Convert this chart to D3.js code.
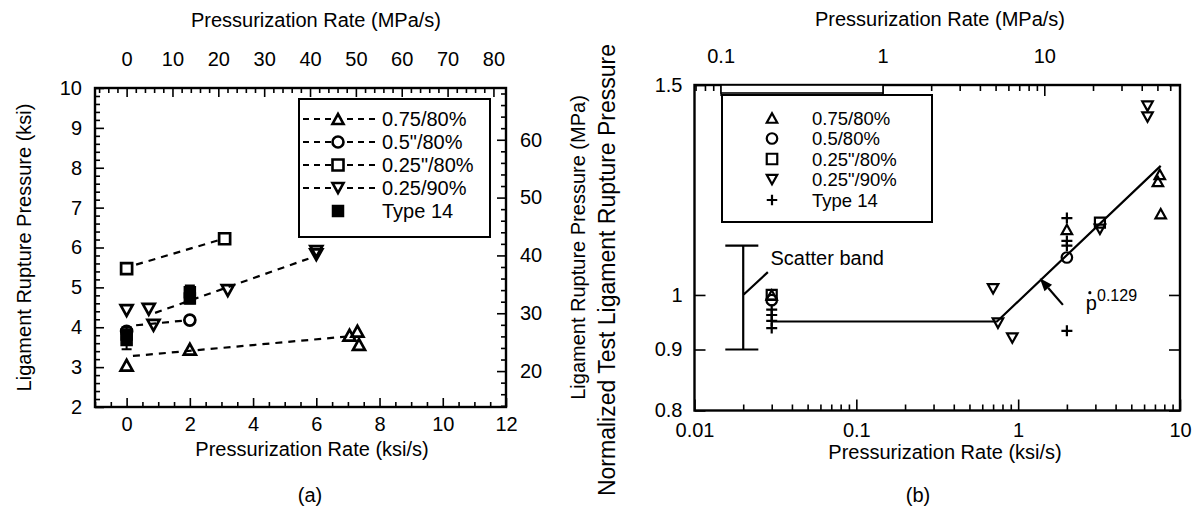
<!DOCTYPE html>
<html><head><meta charset="utf-8">
<script src="https://cdn.jsdelivr.net/npm/d3@7"></script>
<style>
html,body{margin:0;padding:0;background:#fff;}
svg{display:block;font-family:"Liberation Sans",Arial,Helvetica,sans-serif;}
</style></head><body>
<svg id="chart" width="1197" height="514"></svg>
<script>
// Unit conversion for the secondary (MPa) axes
const KSI_TO_MPA = 6.895;

// ---------- panel (a): rupture pressure (ksi) vs pressurization rate (ksi/s) ----------
const aTri75X = [0, 2, 7.05, 7.3, 7.35];
const aTri75Y = [3.05, 3.45, 3.8, 3.9, 3.57];
const aTri75FitX = [0.2, 7.0];
const aTri75FitY = [3.28, 3.77];

const aCirc50X = [0, 2];
const aCirc50Y = [3.9, 4.18];
const aCirc50FitX = [0.3, 1.85];
const aCirc50FitY = [4.05, 4.17];

const aSq25X = [0, 3.1];
const aSq25Y = [5.47, 6.22];
const aSq25FitX = [0.3, 2.9];
const aSq25FitY = [5.57, 6.18];

const aInv90X = [0, 0.7, 0.85, 3.2, 6.0, 6.0];
const aInv90Y = [4.42, 4.45, 4.05, 4.92, 5.82, 5.9];
const aInv90FitX = [0.9, 5.75];
const aInv90FitY = [4.36, 5.72];

const aT14X = [0, 0, 2, 2];
const aT14Y = [3.68, 3.82, 4.72, 4.88];
const aT14ErrX = [0, 2];
const aT14ErrLo = [3.45, 4.6];
const aT14ErrHi = [4.0, 5.05];

const aXTicks = [0, 2, 4, 6, 8, 10, 12];
const aYTicks = [2, 3, 4, 5, 6, 7, 8, 9, 10];
const aTopTicks = [0, 10, 20, 30, 40, 50, 60, 70, 80];
const aRightTicks = [20, 30, 40, 50, 60];
const aLegend = ["0.75/80%", "0.5\"/80%", "0.25\"/80%", "0.25/90%", "Type 14"];

// ---------- panel (b): normalized rupture pressure vs rate (log-log) ----------
const bTriX = [0.03, 2, 7.3, 7.5, 7.6];
const bTriY = [1.0, 1.135, 1.245, 1.262, 1.17];
const bCircX = [0.03, 2];
const bCircY = [0.99, 1.075];
const bSqX = [0.03, 3.2];
const bSqY = [1.0, 1.15];
const bInvX = [0.7, 0.75, 0.92, 3.2, 6.3, 6.3];
const bInvY = [1.012, 0.947, 0.92, 1.135, 1.41, 1.44];
const bPlusX = [0.03, 0.03, 0.03, 0.03, 2, 2, 2, 2];
const bPlusY = [0.972, 0.962, 0.951, 0.938, 1.16, 1.11, 1.10, 0.933];
const bFitX = [0.03, 0.74, 7.6];
const bFitY = [0.95, 0.95, 1.283];
const bXTicks = [0.01, 0.1, 1, 10];
const bYTicks = [0.8, 0.9, 1, 1.5];
const bTopTicks = [0.1, 1, 10];
const bLegend = ["0.75/80%", "0.5/80%", "0.25\"/80%", "0.25\"/90%", "Type 14"];

const FS = 20;
const svg = d3.select("#chart");

// marker outlines centred on (0,0)
function markerPath(kind, s) {
  const h = s * 0.9, w = s;
  switch (kind) {
    case "tri": return `M${-w/2},${h/2}L${w/2},${h/2}L0,${-h/2}Z`;
    case "inv": return `M${-w/2},${-h/2}L${w/2},${-h/2}L0,${h/2}Z`;
    case "sq": return `M${-s/2},${-s/2}H${s/2}V${s/2}H${-s/2}Z`;
    case "circ": { const r = s/2; return `M${r},0A${r},${r} 0 1,1 ${-r},0A${r},${r} 0 1,1 ${r},0Z`; }
    case "plus": return `M${-s/2},0H${s/2}M0,${-s/2}V${s/2}`;
  }
}

function drawMarkers(g, xs, ys, x, y, kind, s, sw, fill) {
  g.append("g").selectAll("path").data(xs.map((d, i) => [d, ys[i]])).join("path")
    .attr("transform", d => `translate(${x(d[0])},${y(d[1])})`)
    .attr("d", markerPath(kind, s))
    .attr("fill", fill || "none").attr("stroke", "#000").attr("stroke-width", sw)
    .attr("stroke-linejoin", "miter");
}

function styleAxis(g) {
  g.select(".domain").remove();
  g.selectAll(".tick line").attr("stroke", "#000").attr("stroke-width", 1.6);
  g.selectAll(".tick text").attr("font-size", FS).attr("fill", "#000")
    .attr("font-family", "Liberation Sans, Arial, sans-serif");
}

// ================= panel (a) =================
const A = {l: 95, r: 506, t: 88, b: 407};
const xA = d3.scaleLinear().domain([-1, 12]).range([A.l, A.r]);
const yA = d3.scaleLinear().domain([2, 10]).range([A.b, A.t]);
const xAm = d3.scaleLinear().domain([-1 * KSI_TO_MPA, 12 * KSI_TO_MPA]).range([A.l, A.r]);
const yAm = d3.scaleLinear().domain([2 * KSI_TO_MPA, 10 * KSI_TO_MPA]).range([A.b, A.t]);
const gA = svg.append("g");

const near = (v, arr) => arr.some(a => Math.abs(a - v) < 1e-6);
// bottom
gA.append("g").attr("transform", `translate(0,${A.b})`)
  .call(d3.axisBottom(xA).tickValues(aXTicks).tickSize(-9).tickPadding(10).tickFormat(d3.format("d"))).call(styleAxis);
gA.append("g").attr("transform", `translate(0,${A.b})`)
  .call(d3.axisBottom(xA).tickValues(d3.range(-1, 12.01, 0.5).filter(v => !near(v, aXTicks))).tickSize(-5).tickFormat("")).call(styleAxis);
// top (MPa/s)
gA.append("g").attr("transform", `translate(0,${A.t})`)
  .call(d3.axisTop(xAm).tickValues(aTopTicks).tickSize(-9).tickPadding(22).tickFormat(d3.format("d"))).call(styleAxis);
gA.append("g").attr("transform", `translate(0,${A.t})`)
  .call(d3.axisTop(xAm).tickValues(d3.range(-6, 82, 2).filter(v => !near(v, aTopTicks))).tickSize(-5).tickFormat("")).call(styleAxis);
// left (ksi)
gA.append("g").attr("transform", `translate(${A.l},0)`)
  .call(d3.axisLeft(yA).tickValues(aYTicks).tickSize(-9).tickPadding(13).tickFormat(d3.format("d"))).call(styleAxis);
gA.append("g").attr("transform", `translate(${A.l},0)`)
  .call(d3.axisLeft(yA).tickValues(d3.range(2, 10.01, 0.2).filter(v => !near(v, aYTicks))).tickSize(-5).tickFormat("")).call(styleAxis);
// right (MPa)
gA.append("g").attr("transform", `translate(${A.r},0)`)
  .call(d3.axisRight(yAm).tickValues(aRightTicks).tickSize(-9).tickPadding(14).tickFormat(d3.format("d"))).call(styleAxis);
gA.append("g").attr("transform", `translate(${A.r},0)`)
  .call(d3.axisRight(yAm).tickValues(d3.range(14, 69, 2).filter(v => !near(v, aRightTicks))).tickSize(-5).tickFormat("")).call(styleAxis);

gA.append("rect").attr("x", A.l).attr("y", A.t).attr("width", A.r - A.l).attr("height", A.b - A.t)
  .attr("fill", "none").attr("stroke", "#000").attr("stroke-width", 2.4);

// dashed trend lines
const lineA = d3.line().x(d => xA(d[0])).y(d => yA(d[1]));
[[aTri75FitX, aTri75FitY], [aCirc50FitX, aCirc50FitY], [aSq25FitX, aSq25FitY], [aInv90FitX, aInv90FitY]]
  .forEach(([fx, fy]) => {
    gA.append("path").attr("d", lineA(fx.map((v, i) => [v, fy[i]])))
      .attr("fill", "none").attr("stroke", "#000").attr("stroke-width", 2.2).attr("stroke-dasharray", "7,6");
  });

// Type 14 error bars
aT14ErrX.forEach((xv, i) => {
  const px = xA(xv);
  gA.append("path")
    .attr("d", `M${px},${yA(aT14ErrLo[i])}V${yA(aT14ErrHi[i])}M${px-5},${yA(aT14ErrLo[i])}H${px+5}M${px-5},${yA(aT14ErrHi[i])}H${px+5}`)
    .attr("stroke", "#000").attr("stroke-width", 2).attr("fill", "none");
});

drawMarkers(gA, aTri75X, aTri75Y, xA, yA, "tri", 12, 2.7);
drawMarkers(gA, aCirc50X, aCirc50Y, xA, yA, "circ", 11, 2.7);
drawMarkers(gA, aSq25X, aSq25Y, xA, yA, "sq", 11, 2.7);
drawMarkers(gA, aInv90X, aInv90Y, xA, yA, "inv", 12, 2.7);
drawMarkers(gA, aT14X, aT14Y, xA, yA, "sq", 11, 1.5, "#000");

// legend (a)
const legA = {x: 299, y: 99, w: 191, h: 138};
gA.append("rect").attr("x", legA.x).attr("y", legA.y).attr("width", legA.w).attr("height", legA.h)
  .attr("fill", "#fff").attr("stroke", "#000").attr("stroke-width", 2);
const legAKinds = ["tri", "circ", "sq", "inv", "t14"];
aLegend.forEach((lab, i) => {
  const cy = 119 + i * 23, sx = 338;
  const row = gA.append("g");
  if (legAKinds[i] !== "t14") {
    row.append("path").attr("d", `M303,${cy}H377`).attr("stroke", "#000").attr("stroke-width", 2.2)
      .attr("stroke-dasharray", "6,5");
    row.append("path").attr("transform", `translate(${sx},${cy})`).attr("d", markerPath(legAKinds[i], 11))
      .attr("fill", "#fff").attr("stroke", "#000").attr("stroke-width", 2.6);
  } else {
    row.append("path").attr("transform", `translate(${sx},${cy})`).attr("d", markerPath("sq", 11))
      .attr("fill", "#000").attr("stroke", "#000").attr("stroke-width", 1.5);
  }
  row.append("text").attr("x", 382).attr("y", cy).attr("dy", "0.36em").attr("font-size", FS).text(lab);
});

// titles (a)
gA.append("text").attr("x", 316).attr("y", 20).attr("dy", "0.36em").attr("text-anchor", "middle").attr("font-size", FS)
  .text("Pressurization Rate (MPa/s)");
gA.append("text").attr("x", 312).attr("y", 449).attr("dy", "0.36em").attr("text-anchor", "middle").attr("font-size", FS)
  .text("Pressurization Rate (ksi/s)");
gA.append("text").attr("transform", `translate(24,${(A.t + A.b) / 2}) rotate(-90)`).attr("dy", "0.36em")
  .attr("text-anchor", "middle").attr("font-size", FS).text("Ligament Rupture Pressure (ksi)");
gA.append("text").attr("transform", `translate(578,${(A.t + A.b) / 2}) rotate(-90)`).attr("dy", "0.36em")
  .attr("text-anchor", "middle").attr("font-size", FS).text("Ligament Rupture Pressure (MPa)");
gA.append("text").attr("x", 310).attr("y", 495).attr("dy", "0.36em").attr("text-anchor", "middle").attr("font-size", FS).text("(a)");

// ================= panel (b) =================
const B = {l: 694.5, r: 1180, t: 85, b: 410.5};
const xB = d3.scaleLog().domain([0.01, 10]).range([B.l, B.r]);
const yB = d3.scaleLog().domain([0.8, 1.5]).range([B.b, B.t]);
const xBm = d3.scaleLog().domain([0.01 * KSI_TO_MPA, 10 * KSI_TO_MPA]).range([B.l, B.r]);
const gB = svg.append("g");

const logMinor = (lo, hi) => {
  const out = [];
  for (let e = -3; e <= 2; e++) for (let m = 2; m <= 9; m++) {
    const v = m * Math.pow(10, e);
    if (v >= lo && v <= hi) out.push(v);
  }
  return out;
};
const fmtB = d => (d >= 1 ? d3.format("d")(d) : String(+d.toPrecision(2)));

gB.append("g").attr("transform", `translate(0,${B.b})`)
  .call(d3.axisBottom(xB).tickValues(bXTicks).tickSize(-11).tickPadding(12).tickFormat(fmtB)).call(styleAxis);
gB.append("g").attr("transform", `translate(0,${B.b})`)
  .call(d3.axisBottom(xB).tickValues(logMinor(0.01, 10)).tickSize(-6).tickFormat("")).call(styleAxis);
gB.append("g").attr("transform", `translate(0,${B.t})`)
  .call(d3.axisTop(xBm).tickValues(bTopTicks).tickSize(-11).tickPadding(22).tickFormat(fmtB)).call(styleAxis);
gB.append("g").attr("transform", `translate(0,${B.t})`)
  .call(d3.axisTop(xBm).tickValues(logMinor(0.0689, 69)).tickSize(-6).tickFormat("")).call(styleAxis);
gB.append("g").attr("transform", `translate(${B.l},0)`)
  .call(d3.axisLeft(yB).tickValues(bYTicks).tickSize(-11).tickPadding(12).tickFormat(d => String(d))).call(styleAxis);
gB.append("g").attr("transform", `translate(${B.r},0)`)
  .call(d3.axisRight(yB).tickValues(bYTicks).tickSize(-11).tickFormat("")).call(styleAxis);

gB.append("rect").attr("x", B.l).attr("y", B.t).attr("width", B.r - B.l).attr("height", B.b - B.t)
  .attr("fill", "none").attr("stroke", "#000").attr("stroke-width", 2.4);

// fitted trend: constant, then power law
const lineB = d3.line().x(d => xB(d[0])).y(d => yB(d[1]));
gB.append("path").attr("d", lineB(bFitX.map((v, i) => [v, bFitY[i]])))
  .attr("fill", "none").attr("stroke", "#000").attr("stroke-width", 2.2);

drawMarkers(gB, bTriX, bTriY, xB, yB, "tri", 10.5, 2.2);
drawMarkers(gB, bCircX, bCircY, xB, yB, "circ", 10.5, 2.2);
drawMarkers(gB, bSqX, bSqY, xB, yB, "sq", 10, 2.2);
drawMarkers(gB, bInvX, bInvY, xB, yB, "inv", 10.5, 2.2);
drawMarkers(gB, bPlusX, bPlusY, xB, yB, "plus", 11, 2.2);

// scatter band bracket
const sbX = 0.02, sbLo = 0.9, sbHi = 1.10, sbCapL = 0.0155, sbCapR = 0.0248;
gB.append("path")
  .attr("d", `M${xB(sbX)},${yB(sbLo)}V${yB(sbHi)}M${xB(sbCapL)},${yB(sbHi)}H${xB(sbCapR)}M${xB(sbCapL)},${yB(sbLo)}H${xB(sbCapR)}` +
             `M${xB(sbX)},${yB(1.0)}L${xB(0.0284)},${yB(1.045)}`)
  .attr("fill", "none").attr("stroke", "#000").attr("stroke-width", 2.2);
gB.append("text").attr("x", xB(0.0295)).attr("y", yB(1.06)).attr("font-size", FS).text("Scatter band");

// arrow pointing at the power-law segment
const arX0 = 1.89, arY0 = 0.981, arX1 = 1.36, arY1 = 1.033;
{
  const x0 = xB(arX0), y0 = yB(arY0), x1 = xB(arX1), y1 = yB(arY1);
  const ang = Math.atan2(y1 - y0, x1 - x0), L = 13, W = 5;
  const bx = x1 - L * Math.cos(ang), by = y1 - L * Math.sin(ang);
  const nx = -Math.sin(ang) * W, ny = Math.cos(ang) * W;
  gB.append("path").attr("d", `M${x0},${y0}L${bx},${by}`).attr("stroke", "#000").attr("stroke-width", 2.2);
  gB.append("path").attr("d", `M${x1},${y1}L${bx + nx},${by + ny}L${bx - nx},${by - ny}Z`).attr("fill", "#000");
}
// exponent label: p-dot to the 0.129
const pl = gB.append("text").attr("x", xB(2.62)).attr("y", yB(0.972)).attr("font-size", FS);
pl.append("tspan").text("p");
pl.append("tspan").attr("dy", -9).attr("font-size", 16).text("0.129");
gB.append("circle").attr("cx", xB(2.62) + 4).attr("cy", yB(0.972) - 17).attr("r", 1.6).attr("fill", "#000");

// legend (b)
gB.append("rect").attr("x", 721).attr("y", 85).attr("width", 162).attr("height", 8)
  .attr("fill", "#fff").attr("stroke", "#000").attr("stroke-width", 1.6);
gB.append("rect").attr("x", 722).attr("y", 95).attr("width", 210).attr("height", 127)
  .attr("fill", "#fff").attr("stroke", "#000").attr("stroke-width", 2);
const legBKinds = ["tri", "circ", "sq", "inv", "plus"];
bLegend.forEach((lab, i) => {
  const cy = 118 + i * 20.5;
  gB.append("path").attr("transform", `translate(772,${cy})`).attr("d", markerPath(legBKinds[i], 10.5))
    .attr("fill", "none").attr("stroke", "#000").attr("stroke-width", 2.2);
  gB.append("text").attr("x", 812).attr("y", cy).attr("dy", "0.36em").attr("font-size", 18.5).text(lab);
});

// titles (b)
gB.append("text").attr("x", 940).attr("y", 19).attr("dy", "0.36em").attr("text-anchor", "middle").attr("font-size", FS)
  .text("Pressurization Rate (MPa/s)");
gB.append("text").attr("x", 945).attr("y", 452).attr("dy", "0.36em").attr("text-anchor", "middle").attr("font-size", FS)
  .text("Pressurization Rate (ksi/s)");
gB.append("text").attr("transform", `translate(607,270) rotate(-90)`).attr("dy", "0.36em")
  .attr("text-anchor", "middle").attr("font-size", 23).text("Normalized Test Ligament Rupture Pressure");
gB.append("text").attr("x", 918).attr("y", 495).attr("dy", "0.36em").attr("text-anchor", "middle").attr("font-size", FS).text("(b)");
</script>
</body></html>
